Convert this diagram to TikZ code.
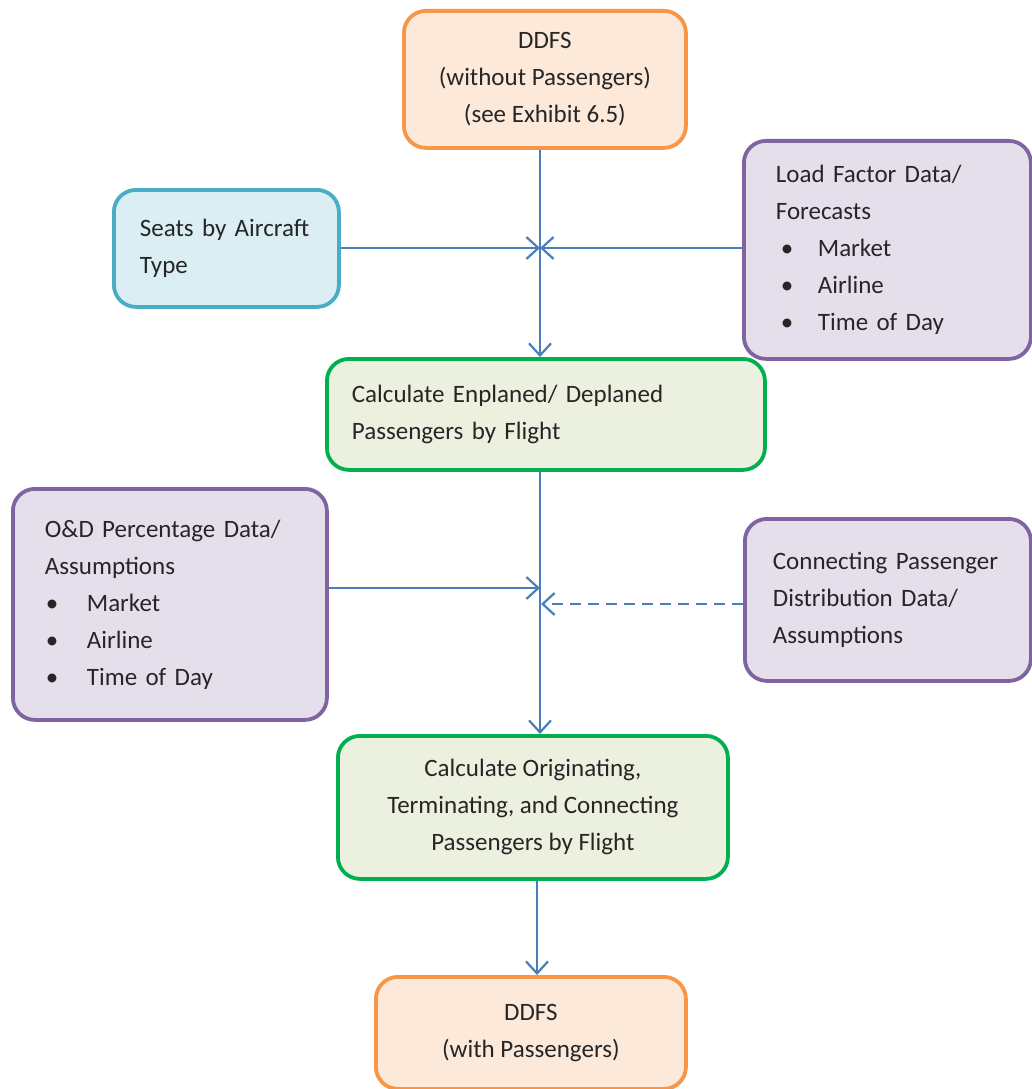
\documentclass[tikz,border=0pt]{standalone}
\usepackage{fontspec}
\setmainfont{Carlito}
\usetikzlibrary{arrows.meta}
\definecolor{flowblue}{HTML}{4A7EBB}
\definecolor{orangeline}{HTML}{F79646}
\definecolor{orangefill}{HTML}{FDE9D9}
\definecolor{blueline}{HTML}{4BACC6}
\definecolor{bluefill}{HTML}{DAEEF3}
\definecolor{purpleline}{HTML}{8064A2}
\definecolor{purplefill}{HTML}{E5DFEC}
\definecolor{greenline}{HTML}{00B050}
\definecolor{greenfill}{HTML}{EBF1DE}
% bullet line: indent, bullet, then the item text at a fixed tab
\newcommand{\bitem}[2]{\hspace*{#1}\makebox[\dimexpr42pt-#1\relax][l]{\textbullet}#2}
\begin{document}
\begin{tikzpicture}[x=1pt,y=-1pt,
  box/.style={rounded corners=22pt, line width=3.8pt, inner ysep=0pt,
    anchor=north west, font=\fontsize{25}{37}\selectfont, text=black!85},
  inbox/.style={box, draw=orangeline, fill=orangefill, align=center, inner xsep=0pt},
  seatbox/.style={box, draw=blueline, fill=bluefill, align=left},
  databox/.style={box, draw=purpleline, fill=purplefill, align=left},
  calcbox/.style={box, draw=greenline, fill=greenfill},
  flow/.style={draw=flowblue, line width=2.2pt,
    -{Straight Barb[length=12pt,width=22pt,line width=2.2pt]}},
  dashflow/.style={flow, dash pattern=on 11pt off 7pt}]
\useasboundingbox (0,0) rectangle (1031,1089);

% boxes
\node[inbox, minimum width=282pt, minimum height=137pt] (ddfsA) at (402,9)
  {DDFS\\(without Passengers)\\(see Exhibit 6.5)};
\node[seatbox, minimum height=117pt, inner xsep=26pt, text width=173pt] (seats) at (112,188)
  {Seats by Aircraft\\Type};
\node[databox, minimum height=218pt, inner xsep=32pt, text width=223pt] (load) at (742,139)
  {Load Factor Data/\\Forecasts\\\bitem{5pt}{Market}\\\bitem{5pt}{Airline}\\\bitem{5pt}{Time of Day}};
\node[calcbox, align=left, minimum height=111pt, inner xsep=25pt, text width=388pt] (enp) at (325,357)
  {Calculate Enplaned/ Deplaned\\Passengers by Flight};
\node[databox, minimum height=231pt, inner xsep=32pt, text width=250pt] (od) at (11,487)
  {O\&D Percentage Data/\\Assumptions\\\bitem{1pt}{Market}\\\bitem{1pt}{Airline}\\\bitem{1pt}{Time of Day}};
\node[databox, minimum height=162pt, inner xsep=28pt, text width=230pt] (conn) at (743,517)
  {Connecting Passenger\\Distribution Data/\\Assumptions};
\node[calcbox, align=center, inner xsep=0pt, minimum width=390pt, minimum height=143pt] (orig) at (336,734)
  {Calculate Originating,\\Terminating, and Connecting\\Passengers by Flight};
\node[inbox, minimum width=310pt, minimum height=112pt] (ddfsB) at (374,975)
  {DDFS\\(with Passengers)};

% junction points on the main flow line
\coordinate (j1) at (540,248);
\coordinate (j2) at (540,588);
\coordinate (j3) at (541,604);
\coordinate (j4) at (537,0);

% connectors
\draw[flow] (ddfsA.south -| j1) -- (enp.north -| j1);
\draw[flow] (seats.east |- j1) -- (j1);
\draw[flow] (load.west |- j1) -- (j1);
\draw[flow] (enp.south -| j1) -- (orig.north -| j1);
\draw[flow] (od.east |- j2) -- (j2);
\draw[dashflow] (conn.west |- j3) -- (j3);
\draw[flow] (orig.south -| j4) -- (ddfsB.north -| j4);
\end{tikzpicture}
\end{document}
